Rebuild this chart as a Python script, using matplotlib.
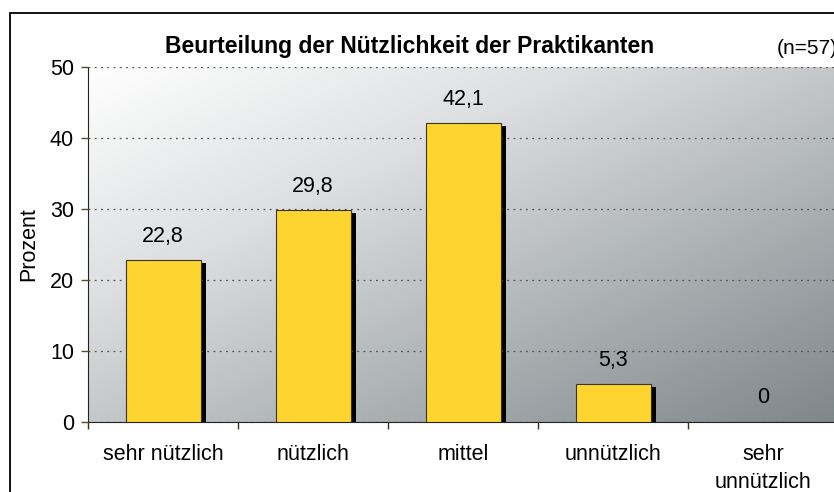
import matplotlib
matplotlib.use("Agg")
import matplotlib.pyplot as plt
import numpy as np
from matplotlib.colors import LinearSegmentedColormap
from matplotlib.patches import Rectangle

categories = ["sehr nützlich", "nützlich", "mittel", "unnützlich", "sehr\nunnützlich"]
values = [22.8, 29.8, 42.1, 5.3, 0]
value_labels = ["22,8", "29,8", "42,1", "5,3", "0"]
yticks = [0, 10, 20, 30, 40, 50]

plt.rcParams['font.family'] = ['Liberation Sans', 'DejaVu Sans']

W, H = 834, 492
fig = plt.figure(figsize=(W / 100, H / 100), dpi=100)
fig.patch.set_facecolor("white")

# axes extends beyond right edge of figure (as in reference)
left, right, top, bottom = 88, 838, 67, 422
ax = fig.add_axes([left / W, (H - bottom) / H, (right - left) / W, (bottom - top) / H])

# gradient background
n = 256
xx, yy = np.meshgrid(np.linspace(0, 1, n), np.linspace(0, 1, n))
g = (xx + yy) / 2.0  # row 0 = top: 0 at top-left, 1 at bottom-right
cmap = LinearSegmentedColormap.from_list("bg", ["#ffffff", "#dcdedf", "#adb2b4", "#7e878a"])
ax.imshow(g, cmap=cmap, extent=[0, 1, 0, 1], origin="upper", transform=ax.transAxes,
          aspect="auto", zorder=0, interpolation="bilinear")

x = np.arange(len(categories))
ax.set_xlim(-0.5, len(categories) - 0.5)
ax.set_ylim(0, 50)

bw = 0.5
# shadows
dx = 5 / 150.0
dy = -3 / 7.1
ax.bar(x + dx, values, width=bw, bottom=dy, color="black", zorder=2, linewidth=0)
bars = ax.bar(x, values, width=bw, color="#fed530", edgecolor="#3a3320", linewidth=0.8, zorder=3)

for xi, v, lab in zip(x, values, value_labels):
    ax.annotate(lab, (xi, v), xytext=(0, 17.3), textcoords="offset points",
                ha="center", va="center", fontsize=15.5, color="black", zorder=5)

ax.set_yticks(yticks)
ax.set_yticklabels([str(t) for t in yticks], fontsize=15.5)
ax.yaxis.grid(True, linestyle=(0, (1.5, 3.5)), color="#555555", linewidth=0.9)
ax.set_axisbelow(False)
for gl in ax.yaxis.get_gridlines():
    gl.set_zorder(1)

ax.set_xticks(x)
ax.set_xticklabels(categories, fontsize=15.5, linespacing=1.4)
ax.tick_params(axis="x", which="major", length=0, pad=16)
ax.set_xticks(np.arange(len(categories) + 1) - 0.5, minor=True)
ax.tick_params(axis="x", which="minor", length=5, color="#3a3320", width=1, direction="out")
ax.tick_params(axis="y", length=5, color="#5a4a30", width=1, direction="out", pad=5)

for s in ["top", "right"]:
    ax.spines[s].set_visible(False)
ax.spines["left"].set_color("#222222")
ax.spines["bottom"].set_color("#222222")

ax.set_ylabel("Prozent", fontsize=15.5, labelpad=8)

fig.text(410 / W, 1 - 47 / H, "Beurteilung der Nützlichkeit der Praktikanten",
         ha="center", va="center", fontsize=16.5, fontweight="bold")
fig.text(777 / W, 1 - 48 / H, "(n=57)", ha="left", va="center", fontsize=15)

# figure border (extends beyond right/bottom edges)
fig.patches.append(Rectangle((10 / W, -0.1), 1.2, 1 - 13 / H + 0.1, transform=fig.transFigure,
                             fill=False, edgecolor="black", linewidth=1.3, clip_on=False))

fig.savefig("out.png", dpi=100)
